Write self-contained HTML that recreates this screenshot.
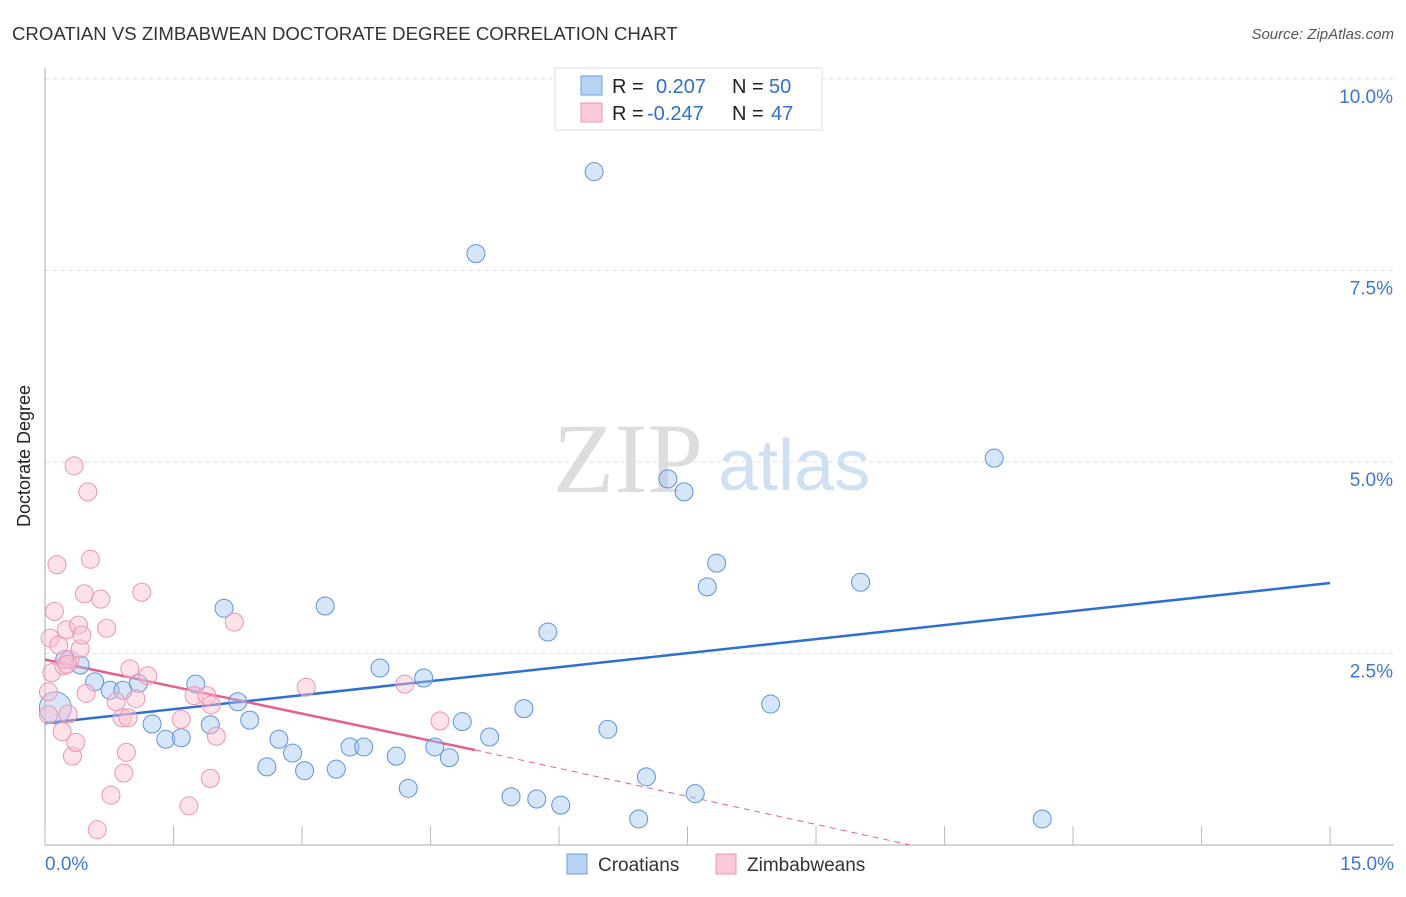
<!DOCTYPE html>
<html><head><meta charset="utf-8"><style>
body{margin:0;background:#fff;font-family:"Liberation Sans",sans-serif}
svg text{font-family:"Liberation Sans",sans-serif}
</style></head><body>
<svg width="1406" height="892" viewBox="0 0 1406 892">
<text x="12" y="40" font-size="18.6" fill="#333">CROATIAN VS ZIMBABWEAN DOCTORATE DEGREE CORRELATION CHART</text>
<text x="1394" y="39" font-size="15" fill="#555" text-anchor="end" font-style="italic">Source: ZipAtlas.com</text>
<text x="30" y="456" font-size="18" fill="#222" text-anchor="middle" transform="rotate(-90 30 456)">Doctorate Degree</text>
<g id="wm">
<text x="553" y="492" font-size="100" fill="#ddd" font-family="Liberation Serif" style="font-family:'Liberation Serif',serif">ZIP</text>
<text x="718" y="490" font-size="72" fill="#cfe0f3">atlas</text>
</g>
<g id="grid"></g>
<g id="axes"></g>
<g id="lines"></g>
<g id="pts"></g>
<g>
<rect x="555" y="68" width="267" height="62" fill="#fff" stroke="#ddd"/>
<rect x="581" y="76" width="21" height="19" fill="#b9d3f3" stroke="#6d9de0"/>
<rect x="581" y="103" width="21" height="19" fill="#fbc9d8" stroke="#ec95b1"/>
<text x="612" y="93" font-size="20" fill="#222">R =</text>
<text x="656" y="93" font-size="20" fill="#2f6fd1">0.207</text>
<text x="732" y="93" font-size="20" fill="#222">N =</text>
<text x="769" y="93" font-size="20" fill="#2f6fd1">50</text>
<text x="612" y="120" font-size="20" fill="#222">R =</text>
<text x="647" y="120" font-size="20" fill="#2f6fd1">-0.247</text>
<text x="732" y="120" font-size="20" fill="#222">N =</text>
<text x="771" y="120" font-size="20" fill="#2f6fd1">47</text>
</g>
<g>
<rect x="567" y="854" width="20" height="20" fill="#b9d3f3" stroke="#6d9de0"/>
<text x="598" y="871" font-size="19" fill="#333">Croatians</text>
<text x="747" y="871" font-size="19" fill="#333">Zimbabweans</text>
<rect x="716" y="854" width="20" height="20" fill="#fbc9d8" stroke="#ec95b1"/>
</g>
</svg>
<script>
const yTicks=[2.5,5.0,7.5,10.0];
const yTickLabels=["2.5%","5.0%","7.5%","10.0%"];
const xTicks=[0,1.5,3,4.5,6,7.5,9,10.5,12,13.5,15];
const croX=[0.12,0.23,0.41,0.58,0.76,0.91,1.09,1.25,1.41,1.59,1.76,1.93,2.09,2.25,2.39,2.59,2.73,2.89,3.03,3.27,3.40,3.56,3.72,3.91,4.10,4.24,4.42,4.55,4.72,4.87,5.03,5.19,5.44,5.59,5.74,5.87,6.02,6.41,6.57,6.93,7.02,7.27,7.46,7.59,7.73,7.84,8.47,9.52,11.08,11.64];
const croY=[1.79,2.42,2.35,2.13,2.02,2.02,2.11,1.58,1.38,1.40,2.10,1.57,3.09,1.87,1.63,1.02,1.38,1.20,0.97,3.12,0.99,1.28,1.28,2.31,1.16,0.74,2.18,1.28,1.14,1.61,7.72,1.41,0.63,1.78,0.60,2.78,0.52,8.79,1.51,0.34,0.89,4.78,4.61,0.67,3.37,3.68,1.84,3.43,5.05,0.34];
const zimX=[0.04,0.06,0.08,0.11,0.14,0.16,0.20,0.22,0.25,0.27,0.29,0.32,0.34,0.36,0.39,0.41,0.43,0.46,0.48,0.50,0.53,0.61,0.65,0.72,0.77,0.83,0.90,0.92,0.95,0.97,0.99,1.06,1.13,1.20,1.59,1.68,1.74,1.89,1.93,1.94,2.00,2.21,3.05,4.20,4.61,0.26,0.04];
const zimY=[2.00,2.70,2.25,3.05,3.66,2.61,1.48,2.34,2.81,1.71,2.42,1.16,4.95,1.34,2.87,2.56,2.74,3.28,1.98,4.61,3.73,0.20,3.21,2.83,0.65,1.87,1.66,0.94,1.21,1.66,2.30,1.91,3.30,2.21,1.64,0.51,1.95,1.95,0.87,1.83,1.42,2.91,2.06,2.10,1.62,2.36,1.70];
const croTrend=[[0,1.59],[15,3.42]];
const zimTrend=[[0,2.42],[5.02,1.24]];
const zimTrendExt=[[5.02,1.24],[10.1,0]];
const NS="http://www.w3.org/2000/svg";
const X=v=>45+v*85.67, Y=v=>845-v*76.6;
function mk(t,a,p){const e=document.createElementNS(NS,t);for(const k in a)e.setAttribute(k,a[k]);p.appendChild(e);return e;}
const grid=document.getElementById('grid'),axes=document.getElementById('axes'),lines=document.getElementById('lines'),pts=document.getElementById('pts');
yTicks.forEach((v,i)=>{
 const l=mk('line',{x1:45,x2:1394,y1:Y(v),y2:Y(v),stroke:'#ddd','stroke-dasharray':'4,4'},grid);
 
 
 const t=mk('text',{x:1393,y:Y(v)+24,'font-size':19,fill:'#3a78d4','text-anchor':'end'},grid);
 t.textContent=yTickLabels[i];
 
 
});
const ya=mk('line',{x1:45,x2:45,y1:68,y2:845,stroke:'#aaa'},axes);


const xa=mk('line',{x1:45,x2:1394,y1:845,y2:845,stroke:'#aaa'},axes);


xTicks.forEach(v=>{
 const l=mk('line',{x1:X(v),x2:X(v),y1:826,y2:845,stroke:'#bbb'},axes);
 
 
});
const xl0=mk('text',{x:45,y:870,'font-size':19,fill:'#3a78d4'},axes);xl0.textContent='0.0%';


const xl1=mk('text',{x:1394,y:870,'font-size':19,fill:'#3a78d4','text-anchor':'end'},axes);xl1.textContent='15.0%';


croX.forEach((x,i)=>{
 const c=mk('circle',{cx:X(x),cy:Y(croY[i]),r:i===0?16:9,fill:'rgba(164,198,240,0.45)',stroke:'#5d93dd','stroke-width':1},pts);
 
 
});
zimX.forEach((x,i)=>{
 const c=mk('circle',{cx:X(x),cy:Y(zimY[i]),r:9,fill:'rgba(250,190,208,0.45)',stroke:'#ec95b1','stroke-width':1},pts);
 
 
});
const tl1=mk('line',{x1:X(croTrend[0][0]),y1:Y(croTrend[0][1]),x2:X(croTrend[1][0]),y2:Y(croTrend[1][1]),stroke:'#2f6fd1','stroke-width':2.5},lines);


const tl2=mk('line',{x1:X(zimTrend[0][0]),y1:Y(zimTrend[0][1]),x2:X(zimTrend[1][0]),y2:Y(zimTrend[1][1]),stroke:'#e5608c','stroke-width':2.5},lines);


const tl3=mk('line',{x1:X(zimTrendExt[0][0]),y1:Y(zimTrendExt[0][1]),x2:X(zimTrendExt[1][0]),y2:Y(zimTrendExt[1][1]),stroke:'#e5608c','stroke-width':1,'stroke-dasharray':'6,5'},lines);


</script>
</body></html>
